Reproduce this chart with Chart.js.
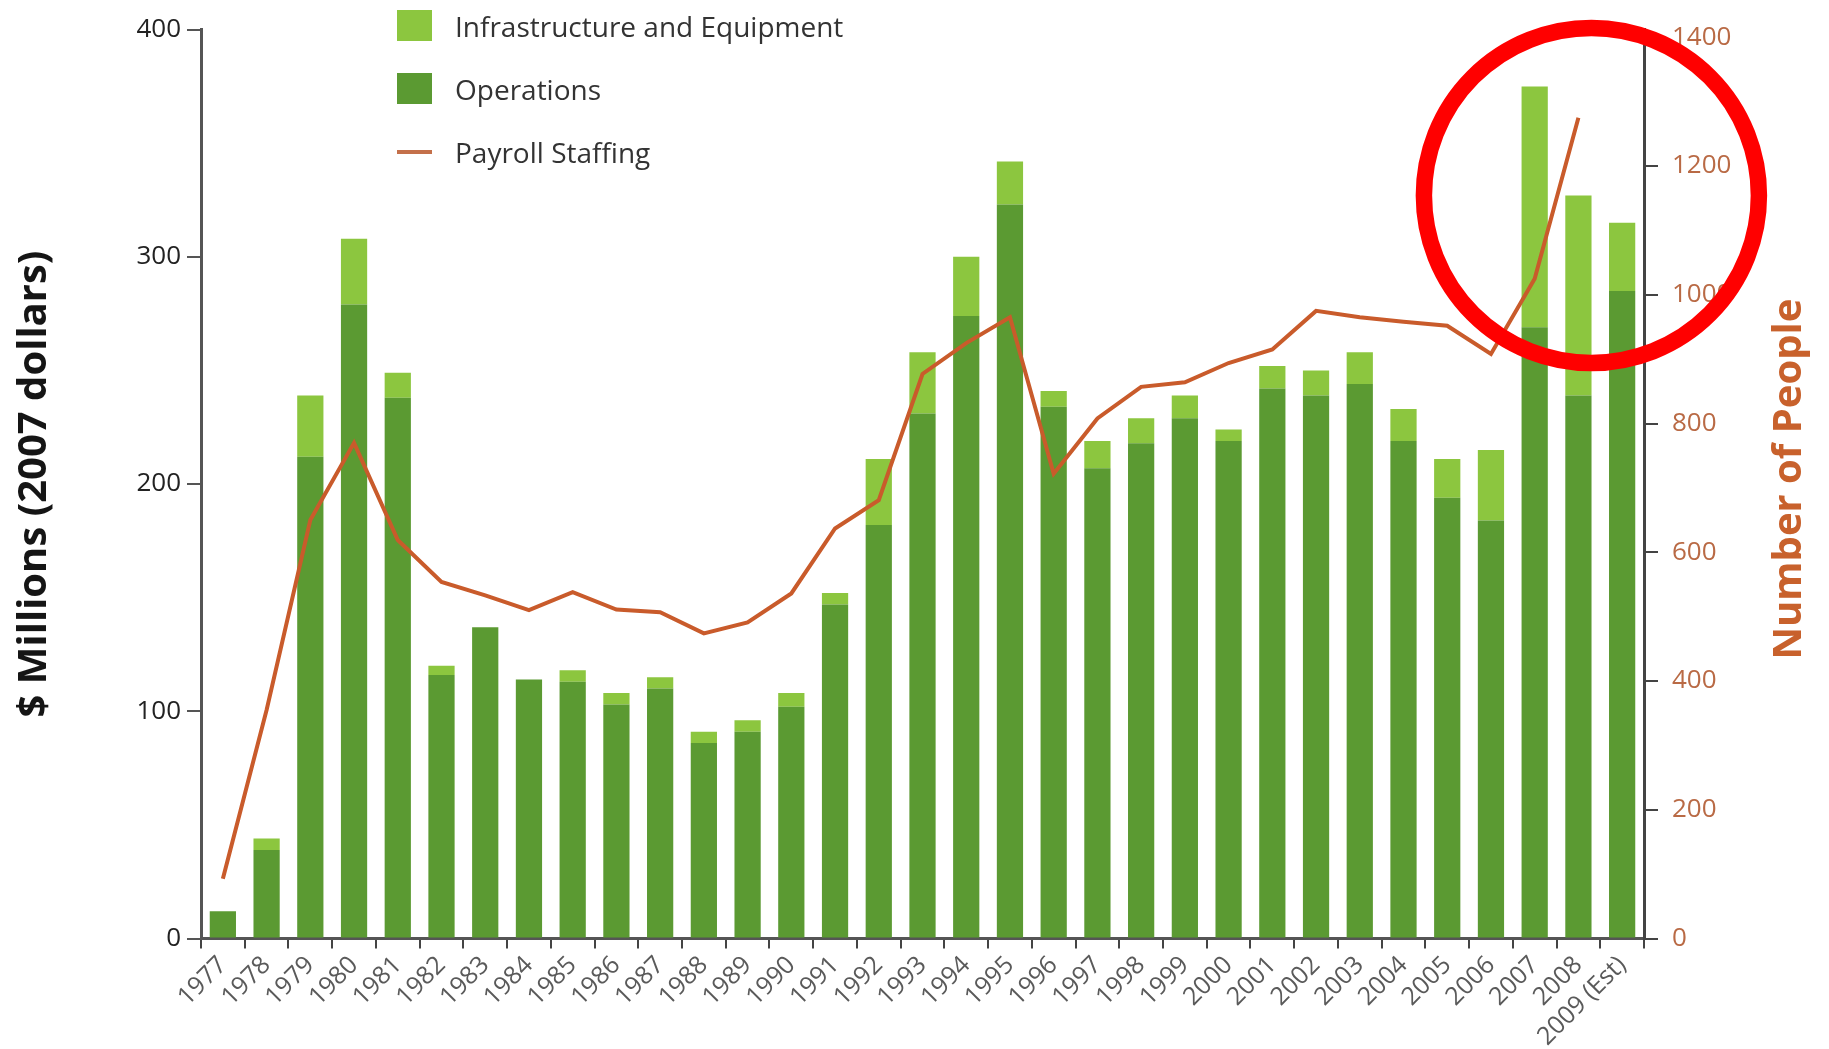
<!DOCTYPE html>
<html>
<head>
<meta charset="utf-8">
<title>Budget and payroll staffing 1977-2009</title>
<script src="https://cdn.jsdelivr.net/npm/chart.js@4.4.1/dist/chart.umd.min.js"></script>
<style>
html, body { margin: 0; padding: 0; background: #fff; }
#wrap { position: relative; width: 1829px; height: 1049px; }
#legend { position: absolute; left: 397px; top: -6px; margin: 0; padding: 0; list-style: none;
          font: 28px "Open Sans", sans-serif; color: #333; }
#legend li { display: flex; align-items: center; height: 63px; white-space: nowrap; }
#legend .mark { width: 35px; margin-right: 23px; }
</style>
</head>
<body>
<div id="wrap">
    <canvas id="budget_chart"></canvas>
    <ul id="legend"></ul>
</div>
<script>
// values
var years = ['1977', '1978', '1979', '1980', '1981', '1982', '1983', '1984', '1985', '1986',
             '1987', '1988', '1989', '1990', '1991', '1992', '1993', '1994', '1995', '1996',
             '1997', '1998', '1999', '2000', '2001', '2002', '2003', '2004', '2005', '2006',
             '2007', '2008', '2009 (Est)'];

// $ millions, 2007 dollars
var operations = [12, 39, 212, 279, 238, 116, 137, 114, 113, 103,
                  110, 86, 91, 102, 147, 182, 231, 274, 323, 234,
                  207, 218, 229, 219, 242, 239, 244, 219, 194, 184,
                  269, 239, 285];
var infrastructure = [0, 5, 27, 29, 11, 4, 0, 0, 5, 5,
                      5, 5, 5, 6, 5, 29, 27, 26, 19, 7,
                      12, 11, 10, 5, 10, 11, 14, 14, 17, 31,
                      106, 88, 30];

// number of people (no figure for 2009)
var staffing = [93, 355, 650, 770, 619, 554, 533, 510, 538, 511,
                507, 474, 491, 536, 637, 681, 877, 925, 965, 722,
                808, 857, 864, 894, 915, 975, 965, 958, 952, 908,
                1025, 1275, null];

var peopleTicks = [0, 200, 400, 600, 800, 1000, 1200, 1400];

var green_dark = '#5b9a32';
var green_light = '#8cc63f';
var orange = '#c95b2b';
var font_family = '"Open Sans", sans-serif';

Chart.defaults.font.family = font_family;

// right hand title reads bottom to top, chart.js would turn it the other way
var peopleTitle = {
    id: 'peopleTitle',
    afterDraw: function (chart) {
        var s = chart.scales.y1;
        var c = chart.ctx;
        c.save();
        c.translate(s.right - 39, (chart.chartArea.top + chart.chartArea.bottom) / 2 - 5);
        c.rotate(-Math.PI / 2);
        c.font = 'bold 40px ' + font_family;
        c.fillStyle = '#c8612c';
        c.textAlign = 'center';
        c.textBaseline = 'middle';
        c.fillText('Number of People', 0, 0);
        c.restore();
    }
};

// the red ring drawn over the 2007-2009 bars
var redRing = {
    id: 'redRing',
    afterDraw: function (chart, args, opts) {
        var x = chart.scales.x.getPixelForValue(years.indexOf(opts.year)) + 13;
        var y = chart.scales.y.getPixelForValue(opts.value);
        var c = chart.ctx;
        c.save();
        c.beginPath();
        c.arc(x, y, 167.5, 0, Math.PI * 2);
        c.lineWidth = 16.5;
        c.strokeStyle = '#ff0000';
        c.stroke();
        c.restore();
    }
};

var ctx = document.getElementById('budget_chart').getContext('2d');
var myChart = new Chart(ctx, {
    data: {
        labels: years,
        datasets: [
            {
                type: 'line',
                label: 'Payroll Staffing',
                data: staffing,
                yAxisID: 'y1',
                borderColor: orange,
                backgroundColor: orange,
                borderWidth: 4,
                pointRadius: 0,
                tension: 0,
                order: 0
            },
            {
                type: 'bar',
                label: 'Operations',
                data: operations,
                yAxisID: 'y',
                backgroundColor: green_dark,
                barPercentage: 0.6,
                categoryPercentage: 1,
                order: 1
            },
            {
                type: 'bar',
                label: 'Infrastructure and Equipment',
                data: infrastructure,
                yAxisID: 'y',
                backgroundColor: green_light,
                barPercentage: 0.6,
                categoryPercentage: 1,
                order: 1
            }
        ]
    },
    options: {
        responsive: true,
        maintainAspectRatio: false,
        animation: false,
        events: [],
        layout: { padding: { top: 29, left: 0, right: 0, bottom: 0 } },
        plugins: {
            legend: { display: false },
            tooltip: { enabled: false },
            redRing: { year: '2008', value: 327 }
        },
        scales: {
            x: {
                stacked: true,
                offset: true,
                grid: { offset: true, drawOnChartArea: false, drawTicks: true, tickLength: 10, color: '#444', lineWidth: 2 },
                border: { display: true, color: '#555', width: 3 },
                ticks: { autoSkip: false, maxRotation: 45, minRotation: 45, padding: 2, color: '#5a5a5a', font: { size: 25 } },
                afterFit: function (s) { s.height = 110.5; }
            },
            y: {
                stacked: true,
                position: 'left',
                min: 0,
                max: 400,
                ticks: { stepSize: 100, padding: 6, color: '#222', font: { size: 26 } },
                grid: { drawOnChartArea: false, tickLength: 14, color: '#555', lineWidth: 2 },
                border: { display: true, color: '#555', width: 3 },
                title: {
                    display: true,
                    text: '$ Millions (2007 dollars)',
                    color: '#151515',
                    font: { size: 40, weight: 'bold' },
                    padding: { top: 11, bottom: 0 }
                },
                afterFit: function (s) { s.width = 201; }
            },
            y1: {
                position: 'right',
                min: 0,
                max: 1412,
                afterBuildTicks: function (s) {
                    s.ticks = peopleTicks.map(function (v) { return { value: v }; });
                },
                ticks: {
                    padding: 14,
                    color: '#b96a45',
                    font: { size: 26 },
                    callback: function (v) { return String(v); }
                },
                grid: { drawOnChartArea: false, tickLength: 14, color: '#444', lineWidth: 2 },
                border: { display: true, color: '#444', width: 3 },
                afterFit: function (s) { s.width = 185; }
            }
        }
    },
    plugins: [peopleTitle, redRing]
});

// legend, top left inside the plot, light green first
var legend_order = [2, 1, 0];
var list = document.getElementById('legend');
legend_order.forEach(function (i) {
    var ds = myChart.data.datasets[i];
    var li = document.createElement('li');
    var mark = document.createElement('span');
    mark.className = 'mark';
    if (ds.type === 'line') {
        mark.style.height = '4px';
        mark.style.background = '#c4704a';
    } else {
        mark.style.height = '31px';
        mark.style.background = ds.backgroundColor;
    }
    li.appendChild(mark);
    li.appendChild(document.createTextNode(ds.label));
    list.appendChild(li);
});
</script>
</body>
</html>
